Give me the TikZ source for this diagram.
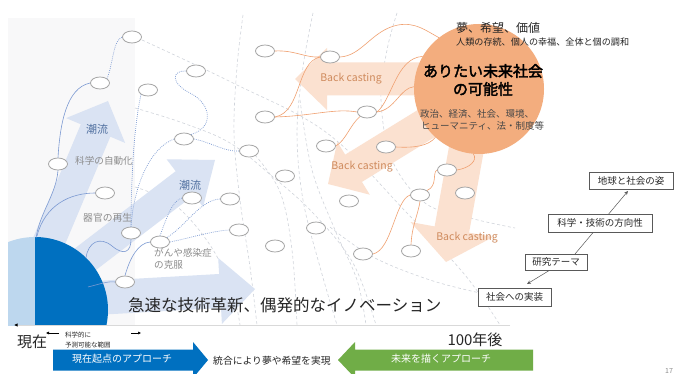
\documentclass[tikz,border=0pt]{standalone}
\usepackage{fontspec}
\newfontfamily\jp{Noto Sans CJK JP}
\newfontfamily\jpb{Noto Sans CJK JP}[FakeBold=2.5]
\usetikzlibrary{shapes.geometric,arrows.meta,calc}
\definecolor{bggray}{HTML}{F8F8F9}
\definecolor{lblue}{HTML}{DAE3F3}
\definecolor{cdark}{HTML}{0070C0}
\definecolor{clight}{HTML}{BDD7EE}
\definecolor{ofill}{HTML}{FBE1D0}
\definecolor{ocirc}{HTML}{F3AD7E}
\definecolor{otext}{HTML}{CF8A5C}
\definecolor{dashgray}{HTML}{D0D4DB}
\definecolor{lineblue}{HTML}{7C9AD2}
\definecolor{lineorange}{HTML}{F0A070}
\definecolor{ovalgray}{HTML}{A5A5A5}
\definecolor{agreen}{HTML}{70AD47}
\definecolor{tgray}{HTML}{8C8C8C}
\definecolor{chou}{HTML}{4F6F9F}
\definecolor{axisgray}{HTML}{D9D9D9}
\definecolor{boxgray}{HTML}{595959}
\definecolor{dtext}{HTML}{262626}
\newcommand\mybarrow[8]{%
  \pgfmathsetmacro\bdx{#3-#1}\pgfmathsetmacro\bdy{#4-#2}%
  \pgfmathsetmacro\bL{100*veclen(\bdx/100,\bdy/100)}%
  \pgfmathsetmacro\bux{\bdx/\bL}\pgfmathsetmacro\buy{\bdy/\bL}%
  \pgfmathsetmacro\bbx{#3-#7*\bux}\pgfmathsetmacro\bby{#4-#7*\buy}%
  \fill[#8] ({#1-#5*\buy},{#2+#5*\bux}) -- ({\bbx-#5*\buy},{\bby+#5*\bux})
    -- ({\bbx-#6*\buy},{\bby+#6*\bux}) -- (#3,#4)
    -- ({\bbx+#6*\buy},{\bby-#6*\bux}) -- ({\bbx+#5*\buy},{\bby-#5*\bux})
    -- ({#1+#5*\buy},{#2-#5*\bux}) -- cycle;}
\tikzset{
  oval/.style={ellipse, draw=ovalgray, fill=white, line width=0.8pt, minimum width=19pt, minimum height=12pt, inner sep=0pt},
  bsolid/.style={draw=lineblue, line width=0.6pt},
  bdot/.style={draw=lineblue, line width=0.7pt, dash pattern=on 0.8pt off 1.2pt},
  oline/.style={draw=lineorange, line width=0.6pt},
  gdash/.style={draw=dashgray, line width=0.6pt, dash pattern=on 3pt off 2.5pt},
  txt/.style={inner sep=0pt, text=#1},
  txt/.default=dtext,
  fs/.style={font={\jp\fontsize{#1}{#1}\selectfont}},
  rbox/.style={draw=boxgray, fill=white, line width=0.6pt, inner sep=0pt, text=dtext, font={\jp\fontsize{9.5}{10}\selectfont}},
  smallarr/.style={draw=black, line width=0.5pt, -{Latex[length=3pt,width=3pt]}},
  boxarr/.style={draw=boxgray, line width=0.5pt, -{Stealth[length=4pt,width=3.5pt]}}
}
\begin{document}
\begin{tikzpicture}[x=1pt,y=-1pt]
\useasboundingbox (0,0) rectangle (676,374);
\fill[white] (0,0) rectangle (676,374);
\fill[bggray] (8,18) rectangle (135,325);
% dashed gray arcs
\draw[gdash] plot[smooth, tension=0.6] coordinates {(142,40) (233,83) (327,133) (407,213) (465,275) (500,325)};
\draw[gdash] plot[smooth, tension=0.6] coordinates {(135,108) (183,123) (230,143) (273,177) (313,213) (353,263) (376,325)};
\draw[gdash] plot[smooth, tension=0.6] coordinates {(243,15) (237,67) (234,133) (240,200) (250,267) (257,325)};
\draw[gdash] plot[smooth, tension=0.6] coordinates {(313,13) (303,67) (297,133) (303,200) (320,267) (337,325)};
\draw[gdash] plot[smooth, tension=0.6] coordinates {(397,13) (387,50) (381,100) (392,160) (425,203) (470,218) (515,228)};
\draw[gdash] plot[smooth, tension=0.6] coordinates {(135,187) (175,205) (210,245) (232,290) (240,325)};
\draw[gdash] plot[smooth, tension=0.6] coordinates {(255,155) (280,192) (292,250) (297,325)};
\draw[gdash] plot[smooth, tension=0.6] coordinates {(300,100) (312,170) (335,230) (357,280) (366,325)};
\draw[gdash] plot[smooth, tension=0.6] coordinates {(330,227) (373,257) (430,280) (480,293)};
% light blue trend arrows
\mybarrow{39}{265}{108}{101}{16}{32}{32}{lblue}
\mybarrow{70}{271}{215}{160}{15}{30}{38}{lblue}
\mybarrow{60}{300}{255}{289}{17}{33}{35}{lblue}
% orange back casting arrows
\mybarrow{430}{79}{295}{79}{16.5}{31}{32}{ofill}
\mybarrow{445}{112}{328}{184}{16}{31}{30}{ofill}
\mybarrow{468}{140}{446}{262}{17.5}{42}{33}{ofill}
% present circle
\begin{scope}
  \clip (8,200) rectangle (35,325);
  \fill[clight] (35,310) circle (73pt);
\end{scope}
\begin{scope}
  \clip (35,200) rectangle (200,325);
  \fill[cdark] (35,310) circle (73pt);
\end{scope}
\coordinate (c1) at (36,238);
\coordinate (c2) at (37,236);
\coordinate (c3) at (86,258);
\coordinate (c4) at (88,287);
% future circle
\node[circle, fill=ocirc, minimum size=130pt, inner sep=0pt] (fut) at (479,89) {};
% ovals
\node[oval] (n1) at (132,37) {};
\node[oval] (n2) at (100,83) {};
\node[oval] (n3) at (58,164) {};
\node[oval] (n4) at (196,71) {};
\node[oval] (n5) at (148,90) {};
\node[oval] (n6) at (184,139) {};
\node[oval] (n7) at (249,151) {};
\node[oval] (n8) at (265,51) {};
\node[oval] (n9) at (265,117) {};
\node[oval] (n10) at (285,176) {};
\node[oval] (n11) at (330,57) {};
\node[oval] (n12) at (326,146) {};
\node[oval] (n13) at (105,193) {};
\node[oval] (n14) at (131,233) {};
\node[oval] (n15) at (192,198) {};
\node[oval] (n16) at (160,242) {};
\node[oval] (n17) at (230,199) {};
\node[oval] (n19) at (239,230) {};
\node[oval] (n20) at (275,246) {};
\node[oval] (n21) at (316,228) {};
\node[oval] (n22) at (125,282) {};
\node[oval] (n23) at (367,112) {};
\node[oval] (n24) at (386,147) {};
\node[oval] (n25) at (447,170) {};
\node[oval] (n26) at (465,193) {};
\node[oval] (n27) at (420,195) {};
\node[oval] (n28) at (349,201) {};
\node[oval] (n29) at (411,251) {};
\node[oval] (n30) at (363,254) {};
% blue connectors
\draw[bsolid] (c1) .. controls (40,212) and (56,195) .. (n3.south);
\draw[bsolid] (n3.north) .. controls (60,125) and (66,88) .. (n2.west);
\draw[bdot] (n2.north east) .. controls (113,65) and (113,40) .. (n1.west);
\draw[bsolid] (c2) .. controls (45,205) and (70,193) .. (n13.west);
\draw[bsolid] (c3) .. controls (88,242) and (100,236) .. (112,246) .. controls (124,256) and (131,252) .. (n14.south);
\draw[bsolid] (c4) .. controls (100,284) and (108,281) .. (n22.west);
\draw[bsolid] (n22.north) .. controls (130,258) and (138,243) .. (n16.west);
\draw[bdot] (n5.south west) .. controls (133,130) and (131,190) .. (n14.north);
\draw[bdot] (n6.west) .. controls (150,148) and (134,185) .. (n14.north);
\draw[bdot] (n6.north east) .. controls (214,128) and (212,104) .. (190,93) .. controls (170,83) and (172,70) .. (n4.west);
\draw[bdot] (n6.east) .. controls (210,142) and (225,152) .. (n7.west);
\draw[bdot] (n16.north) .. controls (166,220) and (172,200) .. (n15.west);
\draw[bdot] (n16.north east) .. controls (186,226) and (200,200) .. (n17.west);
\draw[bdot] (n16.east) .. controls (190,238) and (212,231) .. (n19.west);
% orange connectors
\draw[oline] (n8.east) .. controls (295,50) and (305,58) .. (n11.west);
\draw[oline] (n11.east) .. controls (362,56) and (372,30) .. (398,25) .. controls (415,22) and (425,30) .. (fut.128);
\draw[oline] (n9.east) .. controls (302,112) and (296,62) .. (n11.west);
\draw[oline] (n9.east) .. controls (312,116) and (335,108) .. (n23.west);
\draw[oline] (n23.east) .. controls (392,100) and (396,58) .. (fut.150);
\draw[oline] (n23.east) .. controls (395,110) and (400,88) .. (fut.178);
\draw[oline] (n23.south west) .. controls (350,125) and (346,140) .. (n12.east);
\draw[oline] (n24.east) .. controls (415,148) and (428,146) .. (fut.228);
\draw[oline] (n25.east) .. controls (470,168) and (478,160) .. (fut.265);
\draw[oline] (n25.west) .. controls (432,172) and (438,186) .. (n27.north east);
\draw[oline] (n27.west) .. controls (395,200) and (392,250) .. (n30.east);
\draw[oline] (n27.south) .. controls (418,215) and (412,225) .. (n29.north);
% labels on arrows
\node[txt=chou, fs=11] (l1) at (97,129) {潮流};
\node[txt=chou, fs=11] (l2) at (190,185) {潮流};
\node[txt=tgray, fs=9.6, anchor=west] (l3) at (75,161) {科学の自動化};
\node[txt=tgray, fs=9.8, anchor=west] (l4) at (83,218) {器官の再生};
\node[txt=tgray, fs=9.6, anchor=west] (l5) at (154,253) {がんや感染症};
\node[txt=tgray, fs=9.6, anchor=west] (l6) at (154,265) {の克服};
\node[txt=otext, fs=10.5] (b1) at (351,79) {Back casting};
\node[txt=otext, fs=10.5] (b2) at (362,167) {Back casting};
\node[txt=otext, fs=10.5] (b3) at (467,238) {Back casting};
% future texts
\node[txt, fs=12, anchor=west] (f1) at (456,28) {夢、希望、価値};
\node[txt, fs=9.1, anchor=west] (f2) at (456,42) {人類の存続、個人の幸福、全体と個の調和};
\node[txt=black, font={\jpb\fontsize{15}{15}\selectfont}] (f3) at (483,71) {ありたい未来社会};
\node[txt=black, font={\jpb\fontsize{15}{15}\selectfont}] (f4) at (483,89) {の可能性};
\node[txt=dtext!85, fs=9.5, anchor=west] (f5) at (420,114) {政治、経済、社会、環境、};
\node[txt=dtext!85, fs=9.5, anchor=west] (f6) at (421,126) {ヒューマニティ、法・制度等};
% main text
\node[txt, fs=16.5, anchor=west] (m1) at (128,305) {急速な技術革新、偶発的なイノベーション};
% axis
\coordinate (axL) at (14,325);
\coordinate (axR) at (510,325);
\draw[draw=axisgray, line width=0.7pt, -{Latex[length=3.5pt,width=3.5pt,color=black]}] (axR) -- (axL);
\node[txt, fs=15, anchor=west] (now) at (17,342) {現在};
\node[txt, fs=15] (y100) at (475,340) {100年後};
\coordinate (sa1) at (59,333);
\coordinate (sa2) at (46,333);
\draw[smallarr] (sa1) -- (sa2);
\coordinate (sb1) at (131,333);
\coordinate (sb2) at (141,333);
\draw[smallarr] (sb1) -- (sb2);
\node[txt, fs=6.5, anchor=west] (s1) at (65,335) {科学的に};
\node[txt, fs=6.5, anchor=west] (s2) at (65,345) {予測可能な範囲};
% bottom approach arrows
\mybarrow{53}{360}{208}{360}{10.5}{18}{15}{cdark}
\mybarrow{533}{360}{338}{360}{10.5}{18}{17}{agreen}
\node[txt=white, fs=10] (a1) at (122,359) {現在起点のアプローチ};
\node[txt=white, fs=10] (a2) at (441,359) {未来を描くアプローチ};
\node[txt, fs=9.8, anchor=west] (a3) at (213,361) {統合により夢や希望を実現};
% right boxes
\coordinate (kenA) at (575,254);
\coordinate (chiA) at (628,191);
\coordinate (kenB) at (550,270);
\coordinate (shaA) at (527,284);
\draw[boxarr] (kenA) -- (chiA);
\draw[boxarr] (kenB) -- (shaA);
\node[rbox, minimum width=84pt, minimum height=17pt] (chikyu) at (631,180.5) {地球と社会の姿};
\node[rbox, minimum width=104pt, minimum height=18pt] (kagaku) at (600,223) {科学・技術の方向性};
\node[rbox, minimum width=62pt, minimum height=16pt] (kenkyu) at (556,262) {研究テーマ};
\node[rbox, minimum width=73pt, minimum height=18pt] (shakai) at (514.5,297) {社会への実装};
\node[txt=tgray, fs=7, anchor=west] (pg) at (665,371) {17};
\end{tikzpicture}
\end{document}
